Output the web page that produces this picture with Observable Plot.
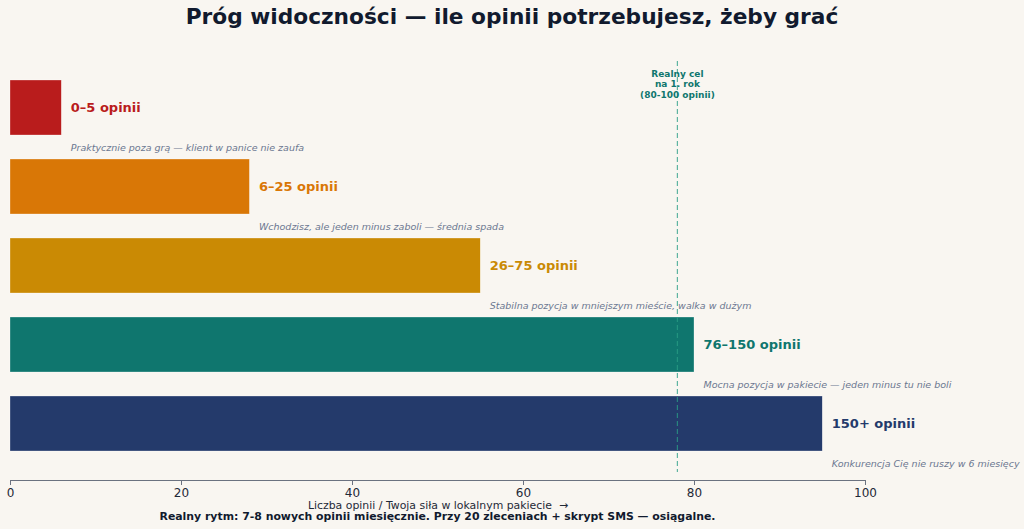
<!DOCTYPE html>
<html><head><meta charset="utf-8">
<script src="https://cdn.jsdelivr.net/npm/d3@7"></script>
<script src="https://cdn.jsdelivr.net/npm/@observablehq/plot@0.6"></script>
<style>
html,body{margin:0;padding:0;background:#f9f6f1;}
body{width:1024px;height:529px;position:relative;overflow:hidden;font-family:"DejaVu Sans",sans-serif;}
#title{position:absolute;left:0;top:4px;width:1024px;text-align:center;font-size:21.7px;font-weight:bold;color:#111a2e;}
#chart{position:absolute;left:0;top:41px;}
#caption{position:absolute;left:10px;width:855px;top:510px;text-align:center;font-size:10.9px;font-weight:bold;color:#111a2e;}
</style></head>
<body>
<div id="title">Próg widoczności — ile opinii potrzebujesz, żeby grać</div>
<div id="chart"></div>
<div id="caption">Realny rytm: 7-8 nowych opinii miesięcznie. Przy 20 zleceniach + skrypt SMS — osiągalne.</div>
<script>
const tiers = ["0–5 opinii", "6–25 opinii", "26–75 opinii", "76–150 opinii", "150+ opinii"];
const strength = [6, 28, 55, 80, 95];
const notes = [
  "Praktycznie poza grą — klient w panice nie zaufa",
  "Wchodzisz, ale jeden minus zaboli — średnia spada",
  "Stabilna pozycja w mniejszym mieście, walka w dużym",
  "Mocna pozycja w pakiecie — jeden minus tu nie boli",
  "Konkurencja Cię nie ruszy w 6 miesięcy"
];
const colors = ["#b91c1c", "#d97706", "#ca8a04", "#0f766e", "#243a6b"];
const target = 78;
const targetLabel = "Realny cel\nna 1. rok\n(80-100 opinii)";
const xTicks = [0, 20, 40, 60, 80, 100];
const xLabel = "Liczba opinii / Twoja siła w lokalnym pakiecie  →";

const data = tiers.map((t, i) => ({tier: t, value: strength[i], note: notes[i], color: colors[i]}));

const chart = Plot.plot({
  width: 1024,
  height: 477,
  marginLeft: 10,
  marginRight: 159,
  marginTop: 11,
  marginBottom: 38,
  style: {background: "transparent", fontFamily: "DejaVu Sans, sans-serif", fontSize: "12px", color: "#1f2937"},
  x: {domain: [0, 100], ticks: xTicks, label: null},
  y: {domain: tiers, paddingInner: 0.3, paddingOuter: 0.35, axis: null},
  color: {domain: tiers, range: colors},
  marks: [
    Plot.barX(data, {x: "value", y: "tier", fill: "tier", stroke: "#ffffff", strokeWidth: 0.5, strokeOpacity: 0.6}),
    Plot.text(data, {x: "value", y: "tier", text: "tier", fill: "tier", textAnchor: "start", dx: 9, fontWeight: "bold", fontSize: 13}),
    Plot.text(data, {x: "value", y: "tier", text: "note", textAnchor: "start", dx: 9, dy: 40, fontStyle: "italic", fontSize: 9.5, fill: "#6b7790"}),
    Plot.ruleX([target], {stroke: "#2a9d85", strokeOpacity: 0.75, strokeDasharray: "5,3", strokeWidth: 1.2, insetTop: 9, insetBottom: 8}),
    Plot.text([target], {x: d => d, frameAnchor: "top", dy: 17, lineAnchor: "top", text: () => targetLabel, fill: "#0f766e", fontWeight: "bold", fontSize: 9, lineHeight: 1.15}),
    Plot.frame({anchor: "bottom", stroke: "#6b7280", strokeWidth: 1}),
    Plot.axisX({ticks: xTicks, tickSize: 5, stroke: "#6b7280", fill: "#1f2937", fontSize: 12, tickPadding: 3, label: null}),
    Plot.text([xLabel], {frameAnchor: "bottom", dy: 28, text: d => d, fontSize: 10.9, fill: "#1f2937"})
  ]
});
document.getElementById("chart").appendChild(chart);
</script>
</body></html>
